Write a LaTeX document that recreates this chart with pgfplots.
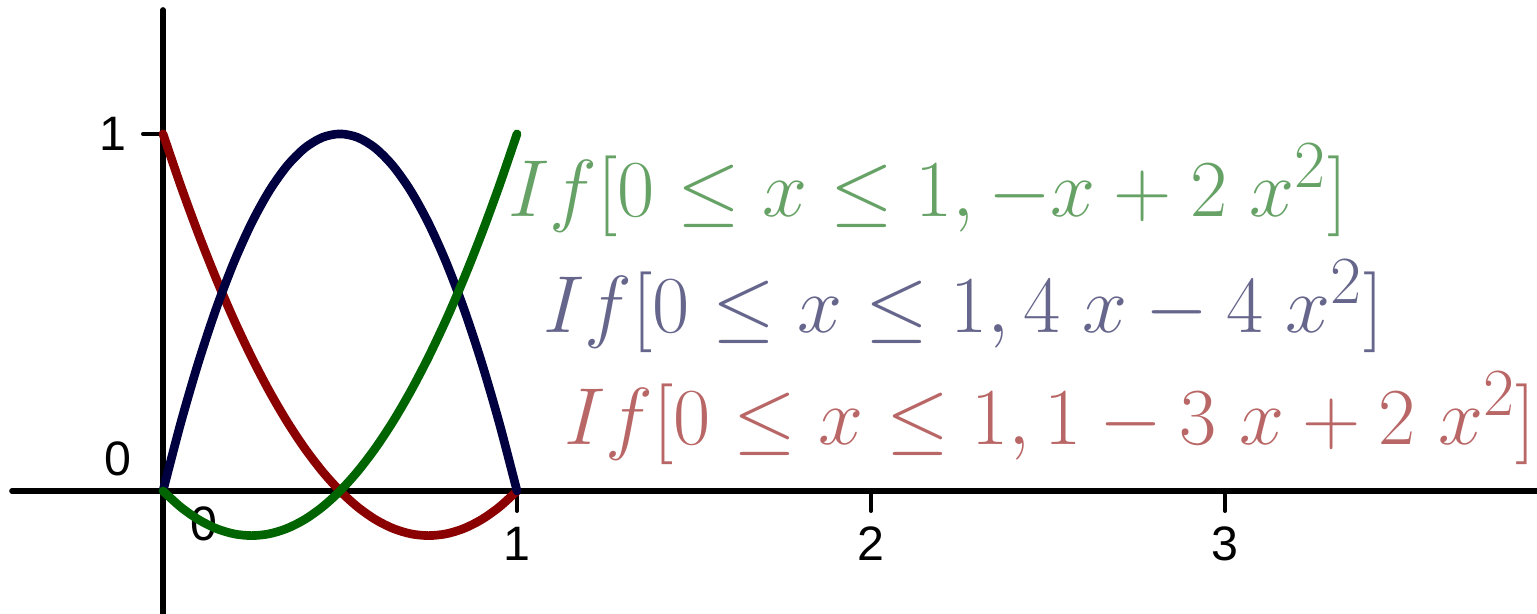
\documentclass[border=0pt]{standalone}
\usepackage{fontspec}
\usepackage{graphicx}
\usepackage{pgfplots}
\pgfplotsset{compat=1.18}
\newfontfamily\ticksans{Liberation Sans}

\definecolor{curvegreen}{RGB}{0,100,0}
\definecolor{curvenavy}{RGB}{0,0,64}
\definecolor{curvered}{RGB}{139,0,0}

% formula labels: math at 24.88pt, slightly reduced
\newcommand{\flabel}[1]{\scalebox{0.975}{\fontsize{24.88}{30}\selectfont$#1$}}

\begin{document}
\begin{tikzpicture}
\begin{axis}[
  scale only axis,
  width=457.5pt, height=181.2pt,
  xmin=-0.4266, xmax=3.8814,
  ymin=-0.3445, ymax=1.347,
  axis lines=middle,
  axis line style={-, line width=1.7pt, black},
  clip=false,
  xtick={1,2,3}, ytick={1},
  extra x ticks={0}, extra y ticks={0},
  extra x tick style={major tick length=0pt, tick label style={xshift=12.3pt}},
  extra y tick style={major tick length=0pt, tick label style={yshift=9.6pt, xshift=-4.5pt}},
  tick align=outside,
  major tick length=6pt,
  tick style={line width=1.2pt, black},
  /pgf/number format/assume math mode=true,
  tick label style={font=\ticksans\fontsize{14.5}{17}\selectfont},
  xticklabel style={anchor=base, yshift=-15pt},
  yticklabel style={anchor=east, xshift=-1.5pt},
  line cap=round, line join=round,
]
% If[0 <= x <= 1, 1 - 3x + 2x^2]
\addplot[curvered, line width=2.6pt, smooth] coordinates {
  (0,1) (0.05,0.855) (0.1,0.72) (0.15,0.595) (0.2,0.48) (0.25,0.375)
  (0.3,0.28) (0.35,0.195) (0.4,0.12) (0.45,0.055) (0.5,0)
  (0.55,-0.045) (0.6,-0.08) (0.65,-0.105) (0.7,-0.12) (0.75,-0.125)
  (0.8,-0.12) (0.85,-0.105) (0.9,-0.08) (0.95,-0.045) (1,0)
};
% If[0 <= x <= 1, 4x - 4x^2]
\addplot[curvenavy, line width=2.6pt, smooth] coordinates {
  (0,0) (0.05,0.19) (0.1,0.36) (0.15,0.51) (0.2,0.64) (0.25,0.75)
  (0.3,0.84) (0.35,0.91) (0.4,0.96) (0.45,0.99) (0.5,1)
  (0.55,0.99) (0.6,0.96) (0.65,0.91) (0.7,0.84) (0.75,0.75)
  (0.8,0.64) (0.85,0.51) (0.9,0.36) (0.95,0.19) (1,0)
};
% If[0 <= x <= 1, -x + 2x^2]
\addplot[curvegreen, line width=2.6pt, smooth] coordinates {
  (0,0) (0.05,-0.045) (0.1,-0.08) (0.15,-0.105) (0.2,-0.12) (0.25,-0.125)
  (0.3,-0.12) (0.35,-0.105) (0.4,-0.08) (0.45,-0.045) (0.5,0)
  (0.55,0.055) (0.6,0.12) (0.65,0.195) (0.7,0.28) (0.75,0.375)
  (0.8,0.48) (0.85,0.595) (0.9,0.72) (0.95,0.855) (1,1)
};
% function labels
\node[anchor=base west, inner sep=0pt, text=curvegreen, text opacity=0.6]
  at (axis cs:0.9746,0.7675) {\flabel{If[0\leq x\leq 1,-x+2\;x^{2}]}};
\node[anchor=base west, inner sep=0pt, text=curvenavy, text opacity=0.6]
  at (axis cs:1.0735,0.4426) {\flabel{If[0\leq x\leq 1,4\;x-4\;x^{2}]}};
\node[anchor=base west, inner sep=0pt, text=curvered, text opacity=0.6]
  at (axis cs:1.1327,0.1289) {\flabel{If[0\leq x\leq 1,1-3\;x+2\;x^{2}]}};
\end{axis}
% drawing area: the axis box plus a small margin at the left and top
\pgfresetboundingbox
\path ([xshift=-3.6pt, yshift=3pt]current axis.north west) rectangle (current axis.south east);
\end{tikzpicture}
\end{document}
